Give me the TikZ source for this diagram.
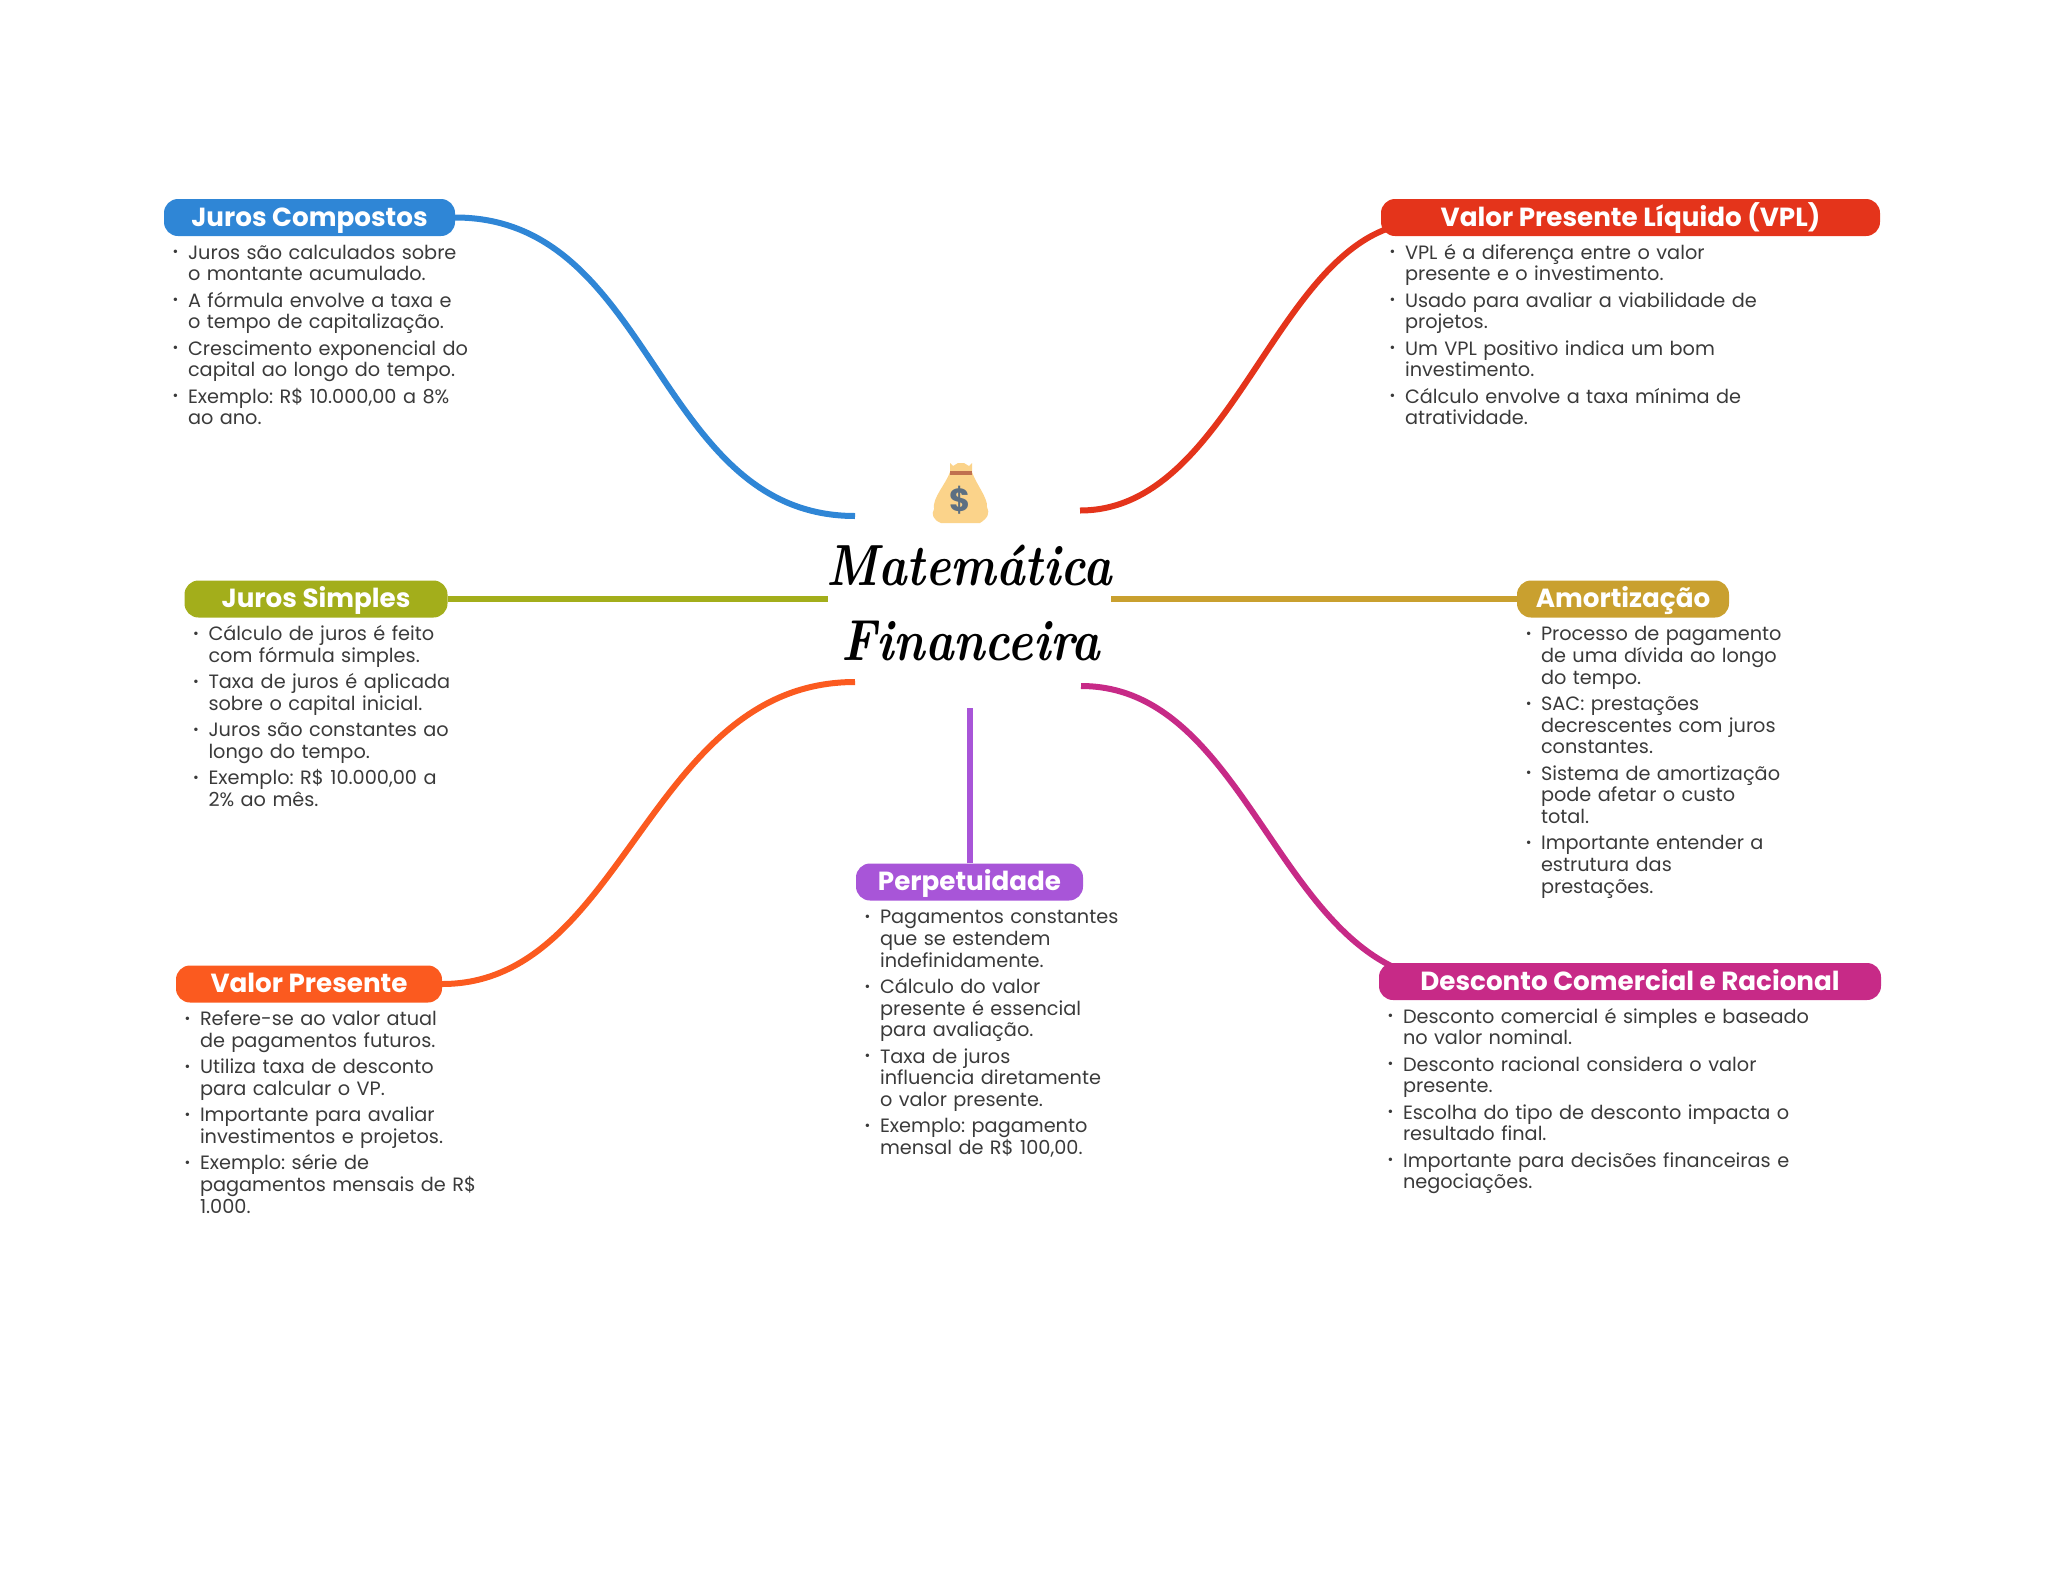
\documentclass[tikz,border=0pt]{standalone}
\usepackage{fontspec}
\usetikzlibrary{calc}
\newfontfamily\popfont{Poppins}
\definecolor{jccol}{HTML}{2F86D6}
\definecolor{vplcol}{HTML}{E4341B}
\definecolor{jscol}{HTML}{A3AE1B}
\definecolor{amcol}{HTML}{C9A02F}
\definecolor{vpcol}{HTML}{FB5A1F}
\definecolor{pecol}{HTML}{A855D8}
\definecolor{dccol}{HTML}{C72A87}
\definecolor{ptscol}{HTML}{3A3A3A}
\definecolor{bagcol}{HTML}{FBD38A}
\definecolor{bandcol}{HTML}{C0704F}
\definecolor{dollarcol}{HTML}{5C6F82}
\newenvironment{pts}{\list{\raisebox{0.2ex}{\fontsize{14}{14}\selectfont\textbullet}}{%
  \topsep=0pt \partopsep=0pt \parsep=0pt \itemsep=4.6pt
  \leftmargin=24pt \labelwidth=14pt \labelsep=9.5pt}}{\endlist}
\tikzset{
  topic/.style={rounded corners=14pt, minimum height=37pt, inner sep=0pt, text=white,
    text height=21pt, text depth=4pt,
    font=\popfont\bfseries\fontsize{26.2}{28}\selectfont},
  ptsbox/.style={anchor=north west, inner sep=0pt, text width=480pt, align=left, text=ptscol,
    font=\popfont\frenchspacing\fontsize{19.3}{21.7}\selectfont},
  branch/.style={line width=6pt},
  titletext/.style={inner sep=0pt, anchor=base, font=\bfseries\itshape\fontsize{58}{62}\selectfont},
}
\begin{document}
\begin{tikzpicture}[x=1pt,y=-1pt]
    \useasboundingbox (0,0) rectangle (2048,1569);

    % title
    \fill[bagcol] (950,463) -- (953,466) -- (958,463) -- (964,463) -- (969,466) -- (972,463) -- (972,472)
        .. controls (976,484) and (988,498) .. (987,507) .. controls (990,513) and (988,518) .. (980,523) -- (941,523)
        .. controls (933,520) and (931,514) .. (934,509) .. controls (932,498) and (946,484) .. (950,472) -- cycle;
    \fill[bandcol] (950,471) rectangle (972,475);
    \node[inner sep=0pt, text=dollarcol, font=\popfont\bfseries\fontsize{32}{32}\selectfont] (bag) at (960,500) {\$};
    \node[titletext] (title1) at (969,585) {\scalebox{0.83}[1]{Matemática}};
    \node[titletext] (title2) at (971,660) {\scalebox{0.83}[1]{Financeira}};

    % topics
    \node[topic, fill=jccol, minimum width=291pt] (jc) at (309.5,217.5) {Juros Compostos};
    \node[topic, fill=vplcol, minimum width=499pt] (vpl) at (1630.5,217.5) {Valor Presente Líquido (VPL)};
    \node[topic, fill=jscol, minimum width=263pt] (js) at (316,599) {Juros Simples};
    \node[topic, fill=amcol, minimum width=212pt] (am) at (1623,599) {Amortização};
    \node[topic, fill=vpcol, minimum width=266pt] (vp) at (309,984) {Valor Presente};
    \node[topic, fill=pecol, minimum width=227pt] (pe) at (969.5,882) {Perpetuidade};
    \node[topic, fill=dccol, minimum width=502pt] (dc) at (1630,981.5) {Desconto Comercial e Racional};

    % free ends of the branches
    \coordinate (jc-end) at (855,516);
    \coordinate (vpl-end) at (1080,510.5);
    \coordinate (js-end) at (828,599);
    \coordinate (am-end) at (1111,599);
    \coordinate (vp-end) at (855,682);
    \coordinate (pe-end) at ($(pe.north)+(0,-155)$);
    \coordinate (dc-end) at (1081,686);
    \coordinate (vpl-in) at ($(vpl.south west)+(8,-8)$);
    \coordinate (dc-in) at ($(dc.north west)+(12,3)$);

    % branches
    \draw[branch, jccol] (jc.east) .. controls (655,217.5) and (655,516) .. (jc-end);
    \draw[branch, vplcol] (vpl-end) .. controls (1225,510.5) and (1270,270) .. (vpl-in);
    \draw[branch, jscol] (js.east) -- (js-end);
    \draw[branch, amcol] (am.west) -- (am-end);
    \draw[branch, vpcol] (vp.east) .. controls (625,984) and (648,682) .. (vp-end);
    \draw[branch, pecol] (pe.north) -- (pe-end);
    \draw[branch, dccol] (dc-end) .. controls (1230,686) and (1270,905) .. (dc-in);

    % lists
    \node[ptsbox] (jc-pts) at ($(jc.south west)+(0,1)$) {\begin{pts}
        \item Juros são calculados sobre\\o montante acumulado.
        \item A fórmula envolve a taxa e\\o tempo de capitalização.
        \item Crescimento exponencial do\\capital ao longo do tempo.
        \item Exemplo: R\$ 10.000,00 a 8\%\\ao ano.
    \end{pts}};
    \node[ptsbox] (vpl-pts) at ($(vpl.south west)+(0,1)$) {\begin{pts}
        \item VPL é a diferença entre o valor\\presente e o investimento.
        \item Usado para avaliar a viabilidade de\\projetos.
        \item Um VPL positivo indica um bom\\investimento.
        \item Cálculo envolve a taxa mínima de\\atratividade.
    \end{pts}};
    \node[ptsbox] (js-pts) at ($(js.south west)+(0,1)$) {\begin{pts}
        \item Cálculo de juros é feito\\com fórmula simples.
        \item Taxa de juros é aplicada\\sobre o capital inicial.
        \item Juros são constantes ao\\longo do tempo.
        \item Exemplo: R\$ 10.000,00 a\\2\% ao mês.
    \end{pts}};
    \node[ptsbox] (am-pts) at ($(am.south west)+(0,1)$) {\begin{pts}
        \item Processo de pagamento\\de uma dívida ao longo\\do tempo.
        \item SAC: prestações\\decrescentes com juros\\constantes.
        \item Sistema de amortização\\pode afetar o custo\\total.
        \item Importante entender a\\estrutura das\\prestações.
    \end{pts}};
    \node[ptsbox] (vp-pts) at ($(vp.south west)+(0,1)$) {\begin{pts}
        \item Refere-se ao valor atual\\de pagamentos futuros.
        \item Utiliza taxa de desconto\\para calcular o VP.
        \item Importante para avaliar\\investimentos e projetos.
        \item Exemplo: série de\\pagamentos mensais de R\$\\1.000.
    \end{pts}};
    \node[ptsbox] (pe-pts) at ($(pe.south west)+(0,1)$) {\begin{pts}
        \item Pagamentos constantes\\que se estendem\\indefinidamente.
        \item Cálculo do valor\\presente é essencial\\para avaliação.
        \item Taxa de juros\\influencia diretamente\\o valor presente.
        \item Exemplo: pagamento\\mensal de R\$ 100,00.
    \end{pts}};
    \node[ptsbox] (dc-pts) at ($(dc.south west)+(0,1)$) {\begin{pts}
        \item Desconto comercial é simples e baseado\\no valor nominal.
        \item Desconto racional considera o valor\\presente.
        \item Escolha do tipo de desconto impacta o\\resultado final.
        \item Importante para decisões financeiras e\\negociações.
    \end{pts}};
\end{tikzpicture}
\end{document}
